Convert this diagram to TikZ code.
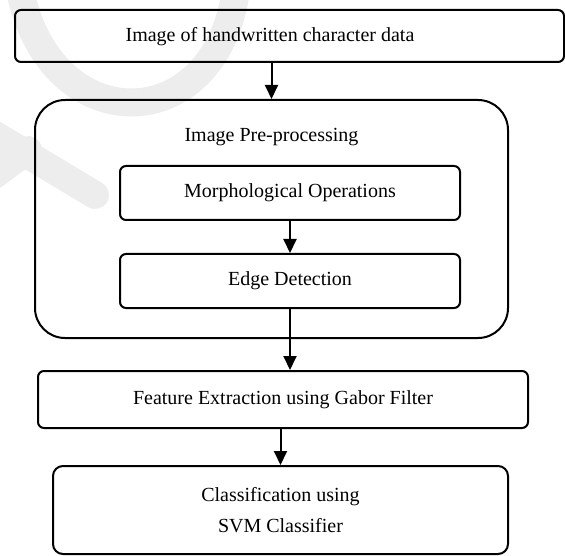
\documentclass[tikz,border=0pt]{standalone}
\usepackage{fontspec}
\setmainfont{Liberation Serif}
\usetikzlibrary{arrows.meta,calc}
\begin{document}
\begin{tikzpicture}[x=1pt,y=-1pt,
  box/.style={draw,line width=2pt,inner sep=0pt},
  txt/.style={inner sep=0pt,font=\fontsize{20}{31}\selectfont,align=center},
  arr/.style={line width=2pt,-{Triangle[width=13pt,length=14pt]}},
  wm/.style={line width=28pt,color=black!7,line cap=round}]
\useasboundingbox (0,0) rectangle (565,556);
% watermark
\draw[wm] (20,-10) .. controls (50,140) and (215,140) .. (236,-10);
\draw[wm] (-10,132) -- (95,195);
\draw[wm] (28,150) -- (-10,178);
% boxes
\node[box,rounded corners=6pt,minimum width=549pt,minimum height=52pt] (top) at (289.5,36) {};
\node[txt] (toptext) at (270,37) {Image of handwritten character data};
\node[box,rounded corners=30pt,minimum width=473pt,minimum height=238pt] (pre) at (271.5,219) {};
\node[txt] (pretitle) at (271.5,137) {Image Pre-processing};
\node[box,rounded corners=6pt,minimum width=340pt,minimum height=54pt,txt] (morph) at (290,193) {Morphological Operations};
\node[box,rounded corners=6pt,minimum width=340pt,minimum height=54pt,txt] (edge) at (290,281) {Edge Detection};
\node[box,rounded corners=6pt,minimum width=490pt,minimum height=57pt,txt] (feat) at (283,399.5) {Feature Extraction using Gabor Filter};
\node[box,rounded corners=10pt,minimum width=455pt,minimum height=88pt,txt] (class) at (280.5,510) {Classification using\\SVM Classifier};
% arrows
\draw[arr] (pre.north |- top.south) -- (pre.north);
\draw[arr] (morph.south) -- (edge.north);
\draw[arr] (edge.south) -- (edge.south |- feat.north);
\draw[arr] (class.north |- feat.south) -- (class.north);
\end{tikzpicture}
\end{document}
